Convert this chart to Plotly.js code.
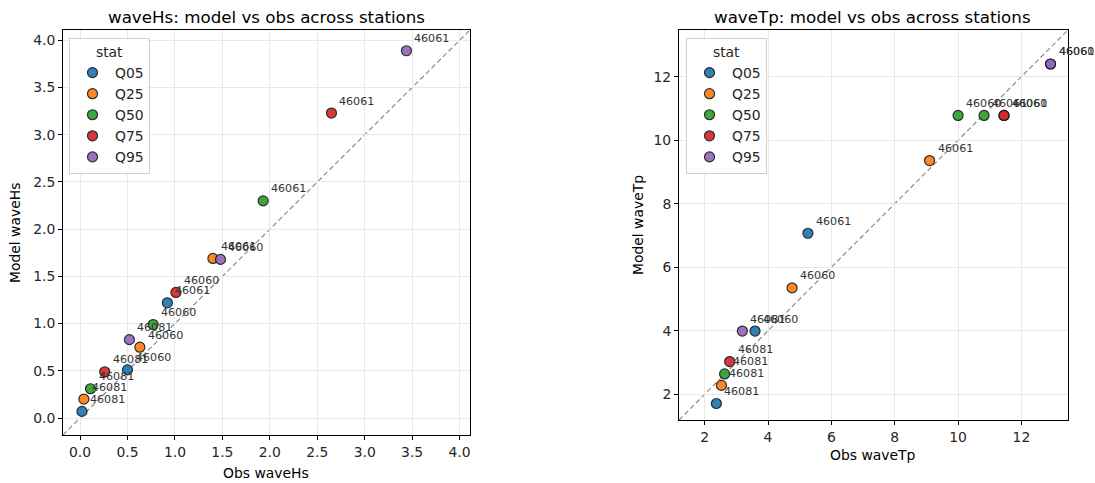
<!DOCTYPE html>
<html>
<head>
<meta charset="utf-8">
<script src="https://cdn.plot.ly/plotly-3.0.1.min.js"></script>
<style>
  html, body { margin: 0; padding: 0; background: #fff; }
  #chart { width: 1095px; height: 483px; }
</style>
</head>
<body>
<div id="chart"></div>
<script>
// ---- data ----
const stats = ['Q05', 'Q25', 'Q50', 'Q75', 'Q95'];
const stations = ['46081', '46060', '46061'];
const statColors = ['#1f77b4', '#ff7f0e', '#2ca02c', '#d62728', '#9467bd'];

// waveHs (rows = stats, columns = stations)
const hsObs = [
  [0.02, 0.50, 0.92],
  [0.04, 0.63, 1.40],
  [0.11, 0.77, 1.93],
  [0.26, 1.01, 2.65],
  [0.52, 1.48, 3.44]
];
const hsModel = [
  [0.07, 0.51, 1.22],
  [0.20, 0.75, 1.69],
  [0.31, 0.99, 2.30],
  [0.49, 1.33, 3.23],
  [0.83, 1.68, 3.89]
];
// waveTp
const tpObs = [
  [2.37, 3.59, 5.26],
  [2.53, 4.76, 9.10],
  [2.63, 10.00, 10.82],
  [2.79, 11.45, 11.45],
  [3.19, 12.92, 12.92]
];
const tpModel = [
  [1.71, 3.99, 7.07],
  [2.28, 5.35, 9.36],
  [2.64, 10.78, 10.78],
  [3.03, 10.78, 10.78],
  [3.99, 12.40, 12.40]
];
const hsLims = [-0.18, 4.11];
const tpLims = [1.19, 13.47];
const hsTicks = [0, 0.5, 1, 1.5, 2, 2.5, 3, 3.5, 4];
const tpTicks = [2, 4, 6, 8, 10, 12];

// ---- build ----
const W = 1095, H = 483;
const FONT = 'DejaVu Sans, Liberation Sans, sans-serif';
const TXT = '#262626';

const traces = [];
const annotations = [];

function addPanel(obs, model, xa, ya, legendName) {
  stats.forEach((s, i) => {
    traces.push({
      type: 'scatter', mode: 'markers',
      x: obs[i], y: model[i], name: s,
      xaxis: xa, yaxis: ya, legend: legendName,
      marker: { size: 10, color: statColors[i], opacity: 0.92,
                line: { color: '#1a1a1a', width: 1.2 } },
      hoverinfo: 'skip'
    });
    obs[i].forEach((xv, j) => {
      annotations.push({
        x: xv, y: model[i][j], xref: xa, yref: ya,
        text: stations[j], showarrow: false,
        xanchor: 'left', yanchor: 'middle', xshift: 6, yshift: 12,
        font: { family: FONT, size: 11.1, color: '#333' }
      });
    });
  });
}
addPanel(hsObs, hsModel, 'x', 'y', 'legend');
addPanel(tpObs, tpModel, 'x2', 'y2', 'legend2');

function px(x) { return x / W; }
function py(y) { return 1 - y / H; }

const axBase = {
  showline: true, mirror: true, linecolor: '#000', linewidth: 1,
  ticks: 'outside', ticklen: 4, tickcolor: '#000', tickwidth: 1,
  showgrid: true, gridcolor: '#e8e8e8', gridwidth: 1, zeroline: false,
  tickfont: { family: FONT, size: 13.9, color: TXT },
  fixedrange: true
};

function titleAnn(text, x, y, size, angle) {
  return {
    text: text, x: px(x), y: py(y), xref: 'paper', yref: 'paper',
    showarrow: false, xanchor: 'center', yanchor: 'middle',
    textangle: angle || 0,
    font: { family: FONT, size: size, color: '#000' }
  };
}
annotations.push(titleAnn('waveHs: model vs obs across stations', 266, 17, 16.7));
annotations.push(titleAnn('waveTp: model vs obs across stations', 873, 17, 16.7));
annotations.push(titleAnn('Obs waveHs', 266, 473, 13.9));
annotations.push(titleAnn('Obs waveTp', 873, 455, 13.9));
annotations.push(titleAnn('Model waveHs', 15, 233, 13.9, -90));
annotations.push(titleAnn('Model waveTp', 638, 225, 13.9, -90));

const legendBase = {
  xanchor: 'left', yanchor: 'top',
  bgcolor: 'rgba(255,255,255,0.85)', bordercolor: '#d0d0d0', borderwidth: 1,
  font: { family: FONT, size: 13.9, color: TXT },
  title: { text: 'stat', side: 'top center', font: { family: FONT, size: 13.9, color: TXT } },
  itemwidth: 35
};

const layout = {
  width: W, height: H,
  margin: { l: 0, r: 0, t: 0, b: 0 },
  paper_bgcolor: '#fff', plot_bgcolor: '#fff',
  showlegend: true,
  font: { family: FONT, color: TXT },
  xaxis: Object.assign({}, axBase, { domain: [px(63), px(470)], range: hsLims, tickvals: hsTicks, tickformat: '.1f', anchor: 'y' }),
  yaxis: Object.assign({}, axBase, { domain: [py(435), py(30)], range: hsLims, tickvals: hsTicks, tickformat: '.1f', anchor: 'x' }),
  xaxis2: Object.assign({}, axBase, { domain: [px(679), px(1068)], range: tpLims, tickvals: tpTicks, anchor: 'y2' }),
  yaxis2: Object.assign({}, axBase, { domain: [py(420), py(30)], range: tpLims, tickvals: tpTicks, anchor: 'x2' }),
  legend: Object.assign({}, legendBase, { x: px(69), y: py(38) }),
  legend2: Object.assign({}, legendBase, { x: px(686), y: py(38) }),
  shapes: [
    { type: 'line', xref: 'x', yref: 'y', x0: hsLims[0], y0: hsLims[0], x1: hsLims[1], y1: hsLims[1],
      line: { color: '#8c8c8c', width: 1.2, dash: '5px,3px' }, layer: 'below' },
    { type: 'line', xref: 'x2', yref: 'y2', x0: tpLims[0], y0: tpLims[0], x1: tpLims[1], y1: tpLims[1],
      line: { color: '#8c8c8c', width: 1.2, dash: '5px,3px' }, layer: 'below' }
  ],
  annotations: annotations
};

Plotly.newPlot('chart', traces, layout, { staticPlot: true, displayModeBar: false });
</script>
</body>
</html>
